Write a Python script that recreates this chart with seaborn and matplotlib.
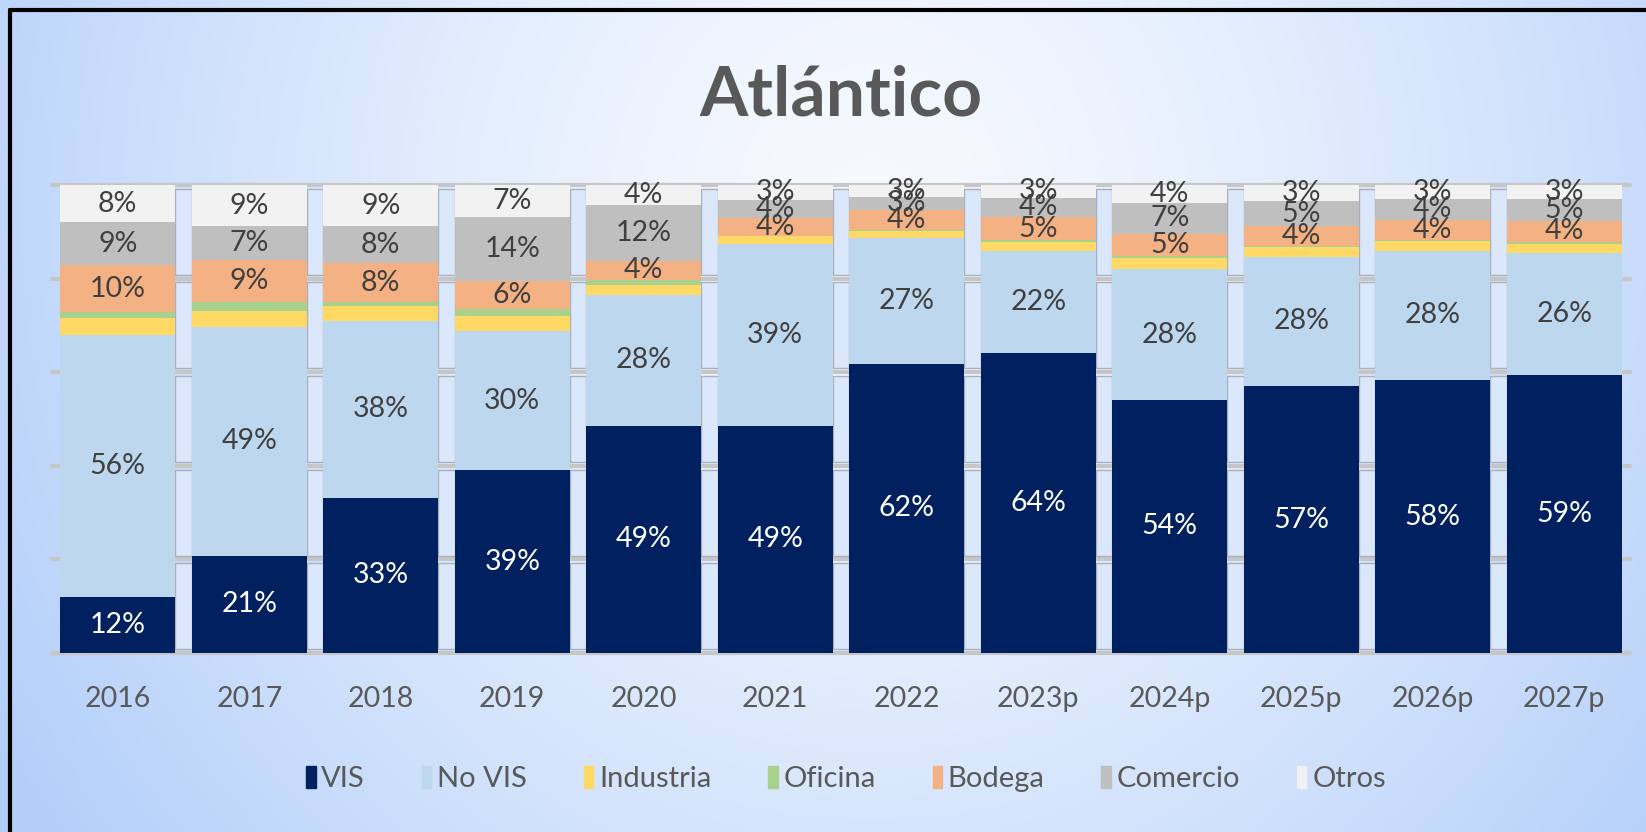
"""
Atlántico — participación por destino (barras 100% apiladas)
"""

import numpy as np
import matplotlib.pyplot as plt
import seaborn as sns
from matplotlib.patches import Patch, Rectangle
from matplotlib.lines import Line2D

# ── Data ───────────────────────────────────────────────────────────────────────
YEARS = ["2016", "2017", "2018", "2019", "2020", "2021", "2022",
         "2023p", "2024p", "2025p", "2026p", "2027p"]

VIS       = [11.9, 20.8, 33.2, 39.0, 48.6, 48.6, 61.8, 64.2, 54.1, 57.0, 58.3, 59.4]
NO_VIS    = [56.0, 48.8, 37.8, 29.8, 27.8, 38.8, 26.8, 21.6, 27.9, 27.7, 27.7, 26.0]
INDUSTRIA = [3.7, 3.5, 3.2, 3.2, 2.2, 1.6, 1.6, 2.1, 2.5, 2.0, 2.0, 2.0]
OFICINA   = [1.2, 1.8, 0.8, 1.5, 1.1, 0.2, 0.1, 0.4, 0.3, 0.3, 0.2, 0.5]
BODEGA    = [10.0, 9.0, 8.3, 6.0, 4.1, 3.8, 4.4, 4.8, 4.8, 4.2, 4.4, 4.4]
COMERCIO  = [9.2, 7.3, 7.9, 13.6, 11.9, 3.9, 2.7, 4.2, 6.6, 5.4, 4.4, 4.8]
OTROS     = [8.0, 8.8, 8.8, 6.9, 4.3, 3.1, 2.6, 2.7, 3.8, 3.4, 3.0, 2.9]

SERIES = ["VIS", "No VIS", "Industria", "Oficina", "Bodega", "Comercio", "Otros"]
VALUES = [VIS, NO_VIS, INDUSTRIA, OFICINA, BODEGA, COMERCIO, OTROS]
COLORS = ["#002060", "#bdd7ee", "#ffd966", "#a9d18e", "#f4b183", "#bfbfbf", "#f2f2f2"]
LABELED = ["VIS", "No VIS", "Bodega", "Comercio", "Otros"]
GRID_TICKS = [0, 20, 40, 60, 80, 100]

# ── Config ─────────────────────────────────────────────────────────────────────
W_PX, H_PX = 1646, 832
DPI = 100
BAR_W = 0.872
TEXT_GRAY = "#595959"
LABEL_GRAY = "#404040"

sns.set_style("white")
plt.rcParams["font.family"] = ["Lato", "DejaVu Sans"]

fig = plt.figure(figsize=(W_PX / DPI, H_PX / DPI), dpi=DPI)

# ── Background gradient ────────────────────────────────────────────────────────
bg = fig.add_axes([0, 0, 1, 1], zorder=-10)
gx, gy = np.meshgrid(np.linspace(0, 1, 400), np.linspace(1, 0, 200))
t = np.sqrt(((gx - 0.53) / 0.62) ** 2 + ((gy - 0.75) / 1.3) ** 2)
t = np.clip(t, 0, 1) ** 1.4
light = np.array([0.965, 0.978, 0.998])
blue = np.array([0.70, 0.81, 0.98])
img = light[None, None, :] * (1 - t[..., None]) + blue[None, None, :] * t[..., None]
bg.imshow(img, aspect="auto", extent=[0, 1, 0, 1], interpolation="bicubic")
bg.set_axis_off()

# black frame (left and top only)
fig.add_artist(Line2D([10 / W_PX, 10 / W_PX], [0, 1 - 10 / H_PX],
                      transform=fig.transFigure, color="black", lw=3))
fig.add_artist(Line2D([10 / W_PX, 1], [1 - 10 / H_PX, 1 - 10 / H_PX],
                      transform=fig.transFigure, color="black", lw=3))

# ── Main axes ──────────────────────────────────────────────────────────────────
ax = fig.add_axes([52 / W_PX, 1 - 653 / H_PX, (1630 - 52) / W_PX, (653 - 185) / H_PX])
ax.patch.set_alpha(0)

data = np.array(VALUES)
cum = np.cumsum(data, axis=0)

# draw cumulative totals from the top layer down so opaque bars look stacked
for k in range(len(SERIES) - 1, -1, -1):
    sns.barplot(x=YEARS, y=cum[k], color=COLORS[k], saturation=1,
                width=BAR_W, linewidth=0, ax=ax, zorder=3)

# gap boxes between bars (Excel-style rendering of the gridlines)
for i in range(len(YEARS) - 1):
    x0 = i + BAR_W / 2
    x1 = i + 1 - BAR_W / 2
    for g0, g1 in zip(GRID_TICKS[:-1], GRID_TICKS[1:]):
        ax.add_patch(Rectangle((x0, g0 + 0.8), x1 - x0, g1 - g0 - 1.6,
                               facecolor="#dbe8fc", edgecolor="#a8b0bc",
                               lw=1, zorder=2))

# data labels
for k, name in enumerate(SERIES):
    if name not in LABELED:
        continue
    base = cum[k] - data[k]
    for i, v in enumerate(data[k]):
        ax.text(i, base[i] + v / 2, f"{v:.0f}%", ha="center", va="center",
                fontsize=20.5, color="white" if name == "VIS" else LABEL_GRAY,
                zorder=5)

ax.set_xlim(-0.5, len(YEARS) - 0.5)
ax.set_ylim(0, 100)
ax.set_yticks(GRID_TICKS)
ax.set_yticklabels([])
ax.grid(axis="y", color="#c6c6c6", lw=3)
for gl in ax.get_ygridlines():
    gl.set_clip_on(False)
ax.set_axisbelow(True)
ax.set_xlabel("")
ax.set_ylabel("")
ax.tick_params(axis="x", length=0, pad=24, labelsize=20.5, labelcolor=TEXT_GRAY)
ax.tick_params(axis="y", length=0)
sns.despine(ax=ax, left=True, bottom=True)

# ── Title & legend ─────────────────────────────────────────────────────────────
fig.text(841 / W_PX, 1 - 116 / H_PX, "Atlántico", ha="center", va="baseline",
         fontsize=50, fontweight="bold", color=TEXT_GRAY)

handles = [Patch(facecolor=c, edgecolor=c, label=s) for s, c in zip(SERIES, COLORS)]
fig.legend(handles=handles, loc="center", bbox_to_anchor=(846 / W_PX, 1 - 779 / H_PX),
           ncol=len(SERIES), frameon=False, fontsize=21, labelcolor=TEXT_GRAY,
           handlelength=0.32, handleheight=0.8, handletextpad=0.2,
           columnspacing=1.95)

fig.savefig("out.png", dpi=DPI)
plt.close(fig)
